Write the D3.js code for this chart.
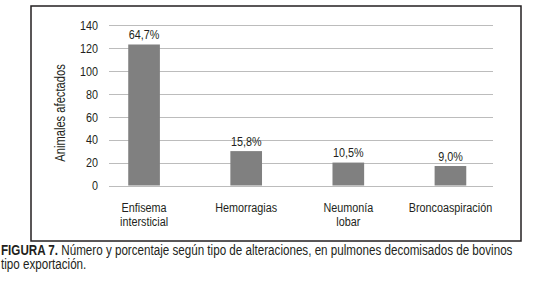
<!DOCTYPE html>
<html>
<head>
<meta charset="utf-8">
<script src="https://cdn.jsdelivr.net/npm/d3@7"></script>
<style>
  body { margin: 0; background: #fff; }
  svg text { font-family: 'Liberation Sans', Arial, sans-serif; fill: #231f20; }
</style>
</head>
<body>
<svg id="chart" width="550" height="292"></svg>
<script>
const categories = [['Enfisema', 'intersticial'], ['Hemorragias'], ['Neumonía', 'lobar'], ['Broncoaspiración']];
const counts = [123, 30, 20, 17];
const percents = ['64,7%', '15,8%', '10,5%', '9,0%'];
const yTicks = [0, 20, 40, 60, 80, 100, 120, 140];

const svg = d3.select('#chart');
const sx = 0.8; // squeeze glyphs to look like the condensed face of the original

// put a condensed text at x, y
function ctext(parent, px, py, size) {
  return parent.append('g').attr('transform', 'translate(' + px + ',' + py + ') scale(' + sx + ',1)')
    .append('text').attr('font-size', size);
}

// frame round the chart
svg.append('rect').attr('x', 31).attr('y', 6).attr('width', 490).attr('height', 235)
  .attr('fill', 'none').attr('stroke', '#231f20').attr('stroke-width', 1.5);

const x = d3.scaleBand().domain(d3.range(categories.length)).range([93, 501.5]).paddingInner(0.69).paddingOuter(0.345);
const y = d3.scaleLinear().domain([0, 140]).range([185.5, 25]);

// gridlines
svg.append('g').selectAll('line').data(yTicks).enter().append('line')
  .attr('x1', 109).attr('x2', 493)
  .attr('y1', d => Math.round(y(d)) + 0.5).attr('y2', d => Math.round(y(d)) + 0.5)
  .attr('stroke', '#bcbcbc').attr('stroke-width', 1);

const yAxis = d3.axisLeft(y).tickValues(yTicks).tickSize(0).tickPadding(0);
const ya = svg.append('g').attr('transform', 'translate(98,0)').call(yAxis);
ya.select('.domain').remove();
ya.selectAll('.tick text').attr('font-size', 13.5).attr('fill', '#231f20').attr('font-family', null)
  .attr('transform', 'scale(' + sx + ',1)').attr('x', 0);

svg.append('g').attr('transform', 'translate(65,113) rotate(-90) scale(' + sx + ',1)')
  .append('text').attr('text-anchor', 'middle').attr('font-size', 14).text('Animales afectados');

svg.append('g').selectAll('rect').data(counts).enter().append('rect')
  .attr('x', (d, i) => x(i)).attr('width', x.bandwidth())
  .attr('y', d => y(d)).attr('height', d => y(0) - y(d))
  .attr('fill', '#808080');

const labels = svg.append('g');
percents.forEach((p, i) => {
  ctext(labels, x(i) + x.bandwidth() / 2, y(counts[i]) - 5.5, 13.5).attr('text-anchor', 'middle').text(p);
});

const cats = svg.append('g');
categories.forEach((c, i) => {
  c.forEach((line, j) => {
    ctext(cats, x(i) + x.bandwidth() / 2, 212 + j * 13.5, 13.5).attr('text-anchor', 'middle').text(line);
  });
});

// caption, squeezed so the first line fills the same width as in the figure
const capG = svg.append('g');
const cap = capG.append('text').attr('x', 0).attr('y', 0).attr('font-size', 14);
cap.append('tspan').attr('font-weight', 'bold').text('FIGURA 7.');
cap.append('tspan').text(' Número y porcentaje según tipo de alteraciones, en pulmones decomisados de bovinos');
capG.append('text').attr('x', 0).attr('y', 14).attr('font-size', 14).text('tipo exportación.');
const k = 512 / cap.node().getComputedTextLength();
capG.attr('transform', 'translate(1,255) scale(' + k + ',1)');
</script>
</body>
</html>
